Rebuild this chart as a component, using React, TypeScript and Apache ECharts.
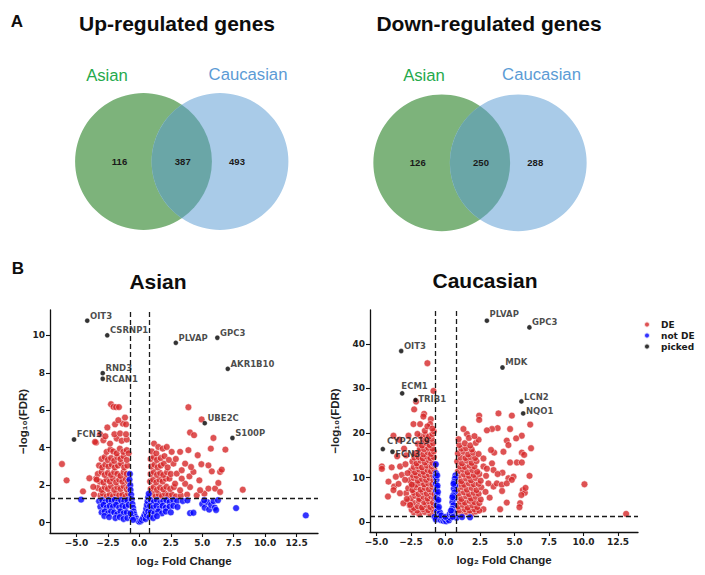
import React, { useEffect, useRef } from "react";
import * as echarts from "echarts";

// ---------- Venn counts: [Asian only, shared, Caucasian only] ----------
const upCounts = [116, 387, 493];
const downCounts = [126, 250, 288];
const vennSets = ["Asian", "Caucasian"];

// ---------- axis ticks ----------
const xTicks = [-5, -2.5, 0, 2.5, 5, 7.5, 10, 12.5];
const asianYTicks = [0, 2, 4, 6, 8, 10];
const caucYTicks = [0, 10, 20, 30, 40];

// thresholds: |log2FC| and -log10(0.05)
const FC_CUT = 0.75;
const FDR_CUT = 1.3;

// ---------- Asian volcano ----------
const asianDE: number[][] = [
  [-3.1, 1.45], [-2.9, 1.55], [-2.6, 1.4], [-2.35, 1.5], [-2.1, 1.42], [-1.85, 1.55], [-1.6, 1.45], [-1.35, 1.5], [-1.1, 1.4], [-0.9, 1.55],
  [-3.3, 1.85], [-3.0, 1.75], [-2.75, 1.9], [-2.5, 1.8], [-2.25, 1.95], [-2.0, 1.75], [-1.75, 1.9], [-1.5, 1.8], [-1.25, 1.95], [-1.0, 1.78], [-0.85, 1.9],
  [-3.45, 2.35], [-3.15, 2.2], [-2.85, 2.15], [-2.6, 2.3], [-2.35, 2.2], [-2.1, 2.35], [-1.85, 2.15], [-1.6, 2.3], [-1.35, 2.2], [-1.1, 2.35], [-0.9, 2.2],
  [-3.3, 2.6], [-3.0, 2.7], [-2.75, 2.55], [-2.5, 2.65], [-2.25, 2.55], [-2.0, 2.7], [-1.75, 2.6], [-1.5, 2.5], [-1.25, 2.7], [-1.0, 2.6],
  [-3.2, 3.05], [-2.95, 2.95], [-2.7, 3.1], [-2.45, 3.0], [-2.2, 3.1], [-1.95, 2.95], [-1.7, 3.05], [-1.45, 3.15], [-1.2, 2.95], [-0.95, 3.05],
  [-3.0, 3.4], [-2.75, 3.5], [-2.5, 3.35], [-2.25, 3.45], [-2.0, 3.3], [-1.75, 3.5], [-1.5, 3.4], [-1.25, 3.55], [-1.0, 3.35],
  [-2.6, 3.78], [-2.3, 3.9], [-2.07, 3.8], [-1.8, 3.7], [-1.55, 3.95], [-1.27, 3.78], [-1.0, 3.87], [-0.85, 3.7],
  [-3.44, 4.27], [-2.86, 4.4], [-2.33, 4.22], [-1.8, 4.49], [-1.4, 4.37], [-1.0, 4.44], [-3.12, 4.72], [-2.7, 4.61], [-1.98, 4.72], [-1.53, 4.76], [-1.06, 4.72],
  [-2.54, 5.08], [-1.93, 5.25], [-1.32, 5.29], [-1.06, 5.25], [-1.67, 5.47], [-1.14, 5.61],
  [-2.25, 6.32], [-2.05, 6.18], [-1.85, 6.17], [-1.62, 6.17],
  [-6.15, 3.13], [-5.78, 2.26], [-4.48, 1.67], [-3.97, 2.37], [-3.66, 1.91], [-3.39, 2.3], [-3.52, 4.31], [-3.6, 1.5],
  [0.85, 1.45], [1.05, 1.55], [1.3, 1.4], [1.55, 1.5], [1.8, 1.42], [2.05, 1.55], [2.3, 1.45], [2.6, 1.5], [2.9, 1.4], [3.3, 1.45], [3.8, 1.5], [4.56, 1.46], [5.17, 1.55],
  [0.9, 1.8], [1.15, 1.9], [1.4, 1.75], [1.65, 1.88], [1.9, 1.78], [2.15, 1.92], [2.45, 1.8], [2.75, 1.9], [3.24, 1.73], [4.03, 1.9], [4.83, 1.73], [5.49, 1.82], [6.02, 1.82], [6.42, 1.64], [8.22, 1.76],
  [0.85, 2.2], [1.1, 2.3], [1.35, 2.15], [1.6, 2.3], [1.85, 2.2], [2.1, 2.35], [2.39, 2.35], [2.84, 2.08], [3.64, 2.08], [3.37, 2.35], [4.77, 2.26], [6.28, 2.12], [3.98, 2.47],
  [0.9, 2.6], [1.15, 2.7], [1.4, 2.55], [1.65, 2.65], [1.9, 2.55], [2.2, 2.7], [2.5, 2.6], [2.97, 2.62], [3.37, 2.8], [4.3, 2.71], [5.76, 2.74], [6.42, 2.71], [6.55, 2.83], [4.11, 2.97],
  [0.95, 3.0], [1.2, 3.1], [1.45, 2.95], [1.7, 3.05], [1.95, 3.15], [2.25, 2.95], [2.71, 3.15], [3.64, 3.15], [4.93, 3.12], [5.49, 3.06],
  [0.9, 3.4], [1.15, 3.5], [1.4, 3.35], [1.7, 3.45], [2.0, 3.55], [2.35, 3.35], [2.9, 3.4], [4.64, 3.6],
  [1.0, 3.8], [1.35, 3.7], [1.17, 4.22], [1.51, 4.04], [1.86, 3.95], [2.18, 4.04], [2.57, 3.78], [3.24, 3.78], [3.9, 3.87], [5.68, 3.95], [6.84, 3.9],
  [4.03, 4.81], [4.35, 4.67], [5.89, 4.52], [4.95, 5.51], [3.9, 6.16],
];
const asianNotDE: number[][] = [
  [-3.2, 1.15], [-2.95, 1.2], [-2.7, 1.1], [-2.45, 1.2], [-2.2, 1.15], [-1.95, 1.22], [-1.7, 1.1], [-1.45, 1.2], [-1.2, 1.15], [-0.95, 1.2],
  [-3.1, 0.85], [-2.85, 0.95], [-2.6, 0.8], [-2.35, 0.9], [-2.1, 0.85], [-1.85, 0.95], [-1.6, 0.8], [-1.35, 0.9], [-1.1, 0.85], [-0.85, 0.95],
  [-3.0, 0.55], [-2.75, 0.6], [-2.5, 0.5], [-2.25, 0.6], [-2.0, 0.55], [-1.75, 0.45], [-1.5, 0.6], [-1.25, 0.5], [-1.0, 0.55],
  [-2.78, 0.36], [-2.4, 0.3], [-1.9, 0.25], [-1.55, 0.3], [-1.25, 0.2], [-0.95, 0.25],
  [-4.63, 1.23],
  [-0.75, 2.6], [-0.78, 2.3], [-0.72, 2.0], [-0.7, 1.75], [-0.65, 1.5], [-0.6, 1.25], [-0.55, 1.0], [-0.5, 0.8], [-0.45, 0.6], [-0.4, 0.45],
  [-0.3, 0.3], [-0.2, 0.2], [-0.1, 0.1], [0, 0.05], [0.1, 0.08], [0.2, 0.15], [0.3, 0.25], [0.4, 0.4], [0.5, 0.55], [0.55, 0.75],
  [0.6, 0.95], [0.65, 1.15], [0.7, 1.35], [0.75, 1.55], [-0.6, 0.3], [-0.5, 0.15], [0.5, 0.2], [0.6, 0.4], [-0.7, 0.5], [0.7, 0.6],
  [0.9, 1.2], [1.15, 1.1], [1.4, 1.2], [1.65, 1.05], [1.9, 1.15], [2.15, 1.2], [2.4, 1.1], [2.7, 1.2], [3.0, 1.15], [3.45, 1.16], [3.82, 1.19],
  [0.85, 0.9], [1.1, 0.8], [1.35, 0.9], [1.6, 0.75], [1.85, 0.9], [2.1, 0.8], [2.4, 0.85], [2.7, 0.9], [3.03, 0.84],
  [0.9, 0.55], [1.2, 0.5], [1.5, 0.6], [1.8, 0.5], [2.1, 0.6], [2.5, 0.55],
  [0.8, 0.3], [1.1, 0.25], [1.4, 0.35],
  [4.03, 0.51], [4.3, 0.53], [5.0, 1.0], [5.2, 0.8], [5.4, 1.1], [5.55, 0.7], [5.7, 0.95], [5.9, 1.15], [6.0, 0.8], [6.25, 1.2], [6.1, 0.68], [5.15, 1.2],
  [7.69, 0.78], [13.23, 0.39],
];
const asianPickedNames = ["OIT3", "CSRNP1", "PLVAP", "GPC3", "AKR1B10", "RND3", "RCAN1", "UBE2C", "S100P", "FCN3"];
const asianPickedFC = [-4.14, -2.55, 2.9, 6.2, 7.03, -2.91, -2.91, 5.2, 7.4, -5.19];
const asianPickedFDR = [10.78, 10.0, 9.6, 9.87, 8.21, 7.98, 7.68, 5.31, 4.52, 4.44];

// ---------- Caucasian volcano ----------
const caucDE: number[][] = [
  [-2.3, 2.2], [-1.9, 1.8], [-1.5, 2.3], [-1.1, 1.9], [-0.85, 2.4],
  [-2.45, 2.8], [-2.05, 2.6], [-1.65, 2.9], [-1.25, 2.7], [-0.95, 3.0],
  [-2.6, 3.8], [-2.3, 3.2], [-2.0, 3.6], [-1.7, 3.3], [-1.4, 3.9], [-1.1, 3.4], [-0.85, 3.7],
  [-2.75, 4.6], [-2.35, 4.4], [-1.95, 4.8], [-1.55, 4.5], [-1.2, 4.7], [-0.9, 4.4],
  [-2.5, 5.4], [-2.2, 5.9], [-1.9, 5.2], [-1.6, 5.7], [-1.3, 5.3], [-1.05, 5.8], [-0.82, 5.4],
  [-2.85, 6.5], [-2.3, 6.6], [-1.95, 6.3], [-1.65, 6.8], [-1.35, 6.4], [-1.0, 6.7], [-0.8, 6.3],
  [-2.7, 7.6], [-2.4, 7.2], [-2.1, 7.8], [-1.8, 7.3], [-1.5, 7.7], [-1.2, 7.4], [-0.95, 7.9],
  [-2.45, 8.6], [-2.15, 8.4], [-1.85, 8.8], [-1.55, 8.5], [-1.25, 8.7], [-0.95, 8.5],
  [-2.6, 9.4], [-2.3, 9.9], [-2.0, 9.3], [-1.7, 9.7], [-1.4, 9.5], [-1.15, 9.9], [-0.88, 9.4],
  [-2.4, 10.6], [-2.1, 10.4], [-1.8, 10.8], [-1.5, 10.5], [-1.2, 10.7], [-0.9, 10.5],
  [-2.5, 11.6], [-2.2, 11.2], [-1.9, 11.8], [-1.6, 11.3], [-1.3, 11.7], [-1.05, 11.4], [-0.82, 11.9],
  [-2.3, 12.4], [-2.0, 12.6], [-1.7, 12.3], [-1.35, 12.7], [-1.0, 12.5], [-0.8, 12.9],
  [-2.4, 13.6], [-2.1, 13.2], [-1.8, 13.8], [-1.5, 13.4], [-1.2, 13.9], [-0.95, 13.3],
  [-2.25, 14.5], [-1.95, 14.6], [-1.65, 14.3], [-1.35, 14.7], [-1.1, 14.4], [-0.85, 14.6],
  [-2.2, 15.4], [-1.9, 15.8], [-1.6, 15.2], [-1.3, 15.7], [-1.05, 15.3], [-0.85, 15.9],
  [-1.85, 16.5], [-1.55, 16.4], [-1.25, 16.7], [-0.95, 16.5],
  [-2.0, 17.6], [-1.7, 17.2], [-1.4, 17.8], [-1.15, 17.3], [-0.9, 17.7],
  [-1.6, 18.5], [-1.3, 18.4], [-1.0, 18.7],
  [-1.8, 19.3], [-1.45, 19.6], [-1.2, 19.2], [-0.95, 19.8], [-0.85, 20.4], [-1.5, 20.5],
  [-1.31, 35.66], [-0.87, 29.45], [-2.13, 27.06], [-2.27, 25.3], [-1.55, 24.3], [-1.6, 23.7], [-1.06, 23.1], [-1.11, 22.0],
  [-2.32, 22.0], [-1.84, 22.0], [-1.31, 21.5], [-0.95, 21.0], [-3.77, 19.4], [-3.34, 18.5], [-2.68, 19.4], [-2.03, 19.8],
  [-4.61, 12.5], [-4.61, 11.96], [-4.13, 9.1], [-3.72, 8.0], [-3.77, 7.2], [-4.17, 5.75], [-3.29, 12.5], [-3.17, 10.6],
  [-2.93, 9.5], [-2.44, 8.4], [-3.05, 4.25], [-2.56, 3.87], [-3.5, 14.8], [-3.0, 16.5], [-3.3, 6.5], [-2.9, 13.0],
  [-3.6, 10.2], [-2.8, 5.2], [-3.9, 12.3], [-3.4, 8.6], [-2.85, 15.0], [-2.75, 11.0],
  [0.85, 2.0], [1.2, 1.7], [1.55, 2.3], [1.9, 1.9], [2.2, 2.4], [2.75, 2.9],
  [1.0, 2.7], [1.4, 2.9], [1.75, 2.6], [2.1, 2.9], [2.45, 2.6],
  [0.9, 3.5], [1.25, 3.9], [1.6, 3.3], [1.95, 3.8], [2.3, 3.4],
  [1.05, 4.6], [1.4, 4.4], [1.75, 4.8], [2.1, 4.5], [2.45, 4.3],
  [0.82, 5.6], [1.15, 5.2], [1.5, 5.8], [1.85, 5.3], [2.2, 5.7], [2.55, 5.1],
  [1.0, 6.5], [1.35, 6.7], [1.7, 6.3], [2.05, 6.6], [2.4, 6.4],
  [0.88, 7.4], [1.2, 7.9], [1.55, 7.3], [1.9, 7.7], [2.25, 7.2], [2.6, 7.8],
  [1.05, 8.6], [1.35, 8.4], [1.7, 8.7], [2.05, 8.5], [2.4, 8.6],
  [0.85, 9.6], [1.15, 9.2], [1.5, 9.8], [1.85, 9.4], [2.2, 9.9], [2.55, 9.3],
  [1.0, 10.5], [1.35, 10.7], [1.7, 10.4], [2.05, 10.6], [2.45, 10.8],
  [0.9, 11.4], [1.25, 11.8], [1.6, 11.2], [1.95, 11.7], [2.3, 11.3],
  [1.05, 12.5], [1.4, 12.4], [1.75, 12.7], [2.1, 12.5],
  [0.85, 13.6], [1.2, 13.2], [1.55, 13.8], [1.9, 13.3], [2.25, 13.7],
  [1.1, 14.5], [1.45, 14.4], [1.8, 14.6], [2.15, 14.4],
  [0.9, 15.4], [1.3, 15.8], [1.65, 15.2], [2.0, 15.6], [2.4, 15.3],
  [1.15, 16.5], [1.5, 16.6], [1.9, 16.3],
  [1.0, 17.3], [1.4, 17.7], [1.8, 17.2], [2.2, 17.8],
  [0.95, 18.6], [1.55, 19.8], [2.4, 18.5],
  [1.3, 20.9], [1.7, 18.9], [2.1, 19.3],
  [2.44, 23.9], [2.44, 22.95], [3.84, 24.4], [4.81, 23.9], [3.78, 21.1], [3.37, 20.9], [3.0, 20.6], [4.68, 20.9],
  [6.14, 21.9], [5.53, 19.4], [5.12, 18.8], [4.44, 18.3], [6.2, 16.6], [5.53, 15.6], [5.7, 15.1], [4.56, 17.3],
  [3.53, 15.6], [4.2, 15.8], [4.68, 13.4], [5.17, 13.4], [5.53, 13.4], [3.37, 13.2], [3.48, 11.7], [4.13, 11.1],
  [3.78, 10.8], [2.75, 14.3], [2.75, 12.5], [2.94, 10.4], [6.09, 10.4], [10.07, 8.5], [13.09, 1.86], [4.56, 9.85],
  [4.93, 10.2], [5.6, 7.2], [5.75, 6.6], [5.5, 6.1], [5.8, 7.7], [4.44, 4.4], [5.41, 4.25], [5.36, 3.36],
  [3.96, 2.9], [3.48, 8.0], [3.72, 8.7], [4.08, 8.4], [4.44, 8.7], [4.81, 9.5], [3.11, 8.7], [2.9, 6.8],
  [3.2, 5.5], [4.1, 7.0], [3.0, 12.0], [3.3, 16.2],
];
const caucNotDE: number[][] = [
  [-0.7, 13.0], [-0.68, 11.0], [-0.72, 10.3], [-0.65, 9.5], [-0.7, 8.6], [-0.62, 7.8], [-0.68, 7.0], [-0.6, 6.2],
  [-0.66, 5.4], [-0.58, 4.6], [-0.64, 3.8], [-0.55, 3.0], [-0.62, 2.4], [-0.5, 1.8], [-0.58, 1.3], [-0.45, 1.0],
  [-0.4, 2.2], [-0.48, 3.4], [-0.52, 5.0], [-0.55, 6.8], [-0.58, 8.2], [-0.6, 10.5],
  [-0.8, 1.2], [-0.7, 0.6], [-0.35, 0.5], [-0.25, 0.9], [-0.15, 0.3], [-0.05, 0.6], [0.05, 0.2], [0.15, 0.7],
  [0.25, 0.4], [0.35, 1.0], [-0.3, 1.5], [0.0, 1.2], [0.3, 1.8], [0.8, 1.0], [1.78, 1.1], [1.2, 1.15],
  [0.72, 10.5], [0.68, 9.8], [0.62, 9.0], [0.7, 8.2], [0.6, 7.5], [0.66, 6.7], [0.55, 6.0], [0.62, 5.2],
  [0.5, 4.5], [0.58, 3.8], [0.48, 3.0], [0.55, 2.4], [0.45, 1.8], [0.52, 1.2], [0.4, 2.6], [0.5, 5.6], [0.58, 8.6],
];
const caucPickedNames = ["PLVAP", "GPC3", "OIT3", "MDK", "ECM1", "TRIB1", "LCN2", "NQO1", "CYP2C19", "FCN3"];
const caucPickedFC = [3.0, 6.08, -3.21, 4.13, -3.14, -2.17, 5.5, 5.63, -4.54, -3.84];
const caucPickedFDR = [45.2, 43.7, 38.4, 34.7, 28.9, 27.4, 27.1, 24.4, 16.4, 15.8];

// label nudges (px) for gene names that sit off the default spot
const asianNudge: Record<string, number[]> = { RCAN1: [0, 0] };
const caucNudge: Record<string, number[]> = {
  PLVAP: [0, -6.5], GPC3: [0, -5.5], MDK: [0, -6], ECM1: [-3.5, -7], TRIB1: [0, -1],
  LCN2: [0, -4], NQO1: [0, -2], CYP2C19: [1.5, -8], FCN3: [0, 2.5],
};

// ---------- styling ----------
const RED = "#d62728";
const BLUE = "#0000ff";
const MONO = "DejaVu Sans";
const SANS = '"Liberation Sans", Arial, sans-serif';
const GREEN_FILL = "#7db37b";
const BLUE_FILL = "#a9cbe8";
const LENS_FILL = "#6aa6a7";

// Venn geometry: two equal circles, the shared lens drawn as its own shape
const VR = 68.4;
const VD = 76.5;
const VH = Math.sqrt(VR * VR - (VD / 2) * (VD / 2));
echarts.graphic.registerShape(
  "vennLens",
  echarts.graphic.extendPath(
    `M0,${-VH} A${VR},${VR} 0 0,1 0,${VH} A${VR},${VR} 0 0,1 0,${-VH} Z`,
    {}
  )
);

const fmtX = (v: number) => (v < 0 ? "\u2212" : "") + Math.abs(v).toFixed(1);

function venn(cx: number, cy: number, counts: number[], title: string, titleX: number, labelXs: number[]) {
  const x1 = cx - VD / 2;
  const x2 = cx + VD / 2;
  const numStyle = (text: string, x: number) => ({
    type: "text",
    x,
    y: cy,
    z: 10,
    style: { text, fill: "#1a1a1a", font: `bold 9.5px ${SANS}`, align: "center", verticalAlign: "middle" },
  });
  return [
    {
      type: "text", x: titleX, y: 23,
      style: { text: title, fill: "#0d0d0d", font: `bold 21px ${SANS}`, align: "center", verticalAlign: "middle" },
    },
    {
      type: "text", x: labelXs[0], y: 75,
      style: { text: vennSets[0], fill: "#25a94c", font: `16.7px ${SANS}`, align: "center", verticalAlign: "middle" },
    },
    {
      type: "text", x: labelXs[1], y: 74.5,
      style: { text: vennSets[1], fill: "#5b9bd5", font: `16.7px ${SANS}`, align: "center", verticalAlign: "middle" },
    },
    { type: "circle", shape: { cx: x1, cy, r: VR }, style: { fill: GREEN_FILL } },
    { type: "circle", shape: { cx: x2, cy, r: VR }, style: { fill: BLUE_FILL } },
    { type: "vennLens", x: cx, y: cy, style: { fill: LENS_FILL } },
    numStyle(String(counts[0]), x1 - 24),
    numStyle(String(counts[1]), cx + 1),
    numStyle(String(counts[2]), x2 + 17),
  ];
}

function axes(gridIndex: number, xr: number[], yr: number[], yTicks: number[], yGap: number) {
  const line = { show: true, onZero: false, lineStyle: { color: "#111", width: 1.3 } };
  const tick = { show: true, length: 4, lineStyle: { color: "#111", width: 1.1 } };
  const lab = { fontFamily: MONO, fontWeight: "bold" as const, fontSize: 9, color: "#222" };
  const nameStyle = { fontFamily: SANS, fontWeight: "bold" as const, fontSize: 11.5, color: "#222" };
  return {
    x: {
      type: "value", gridIndex, min: xr[0], max: xr[1],
      axisLine: line,
      axisTick: { ...tick, customValues: xTicks },
      axisLabel: { ...lab, customValues: xTicks, formatter: fmtX, margin: 5 },
      splitLine: { show: false },
      name: "log\u2082 Fold Change", nameLocation: "middle", nameGap: 22, nameTextStyle: nameStyle,
    },
    y: {
      type: "value", gridIndex, min: yr[0], max: yr[1],
      axisLine: line,
      axisTick: { ...tick, customValues: yTicks },
      axisLabel: { ...lab, customValues: yTicks, formatter: (v: number) => String(v), margin: 5 },
      splitLine: { show: false },
      name: "\u2212log\u2081\u2080(FDR)", nameLocation: "middle", nameGap: yGap, nameTextStyle: nameStyle,
    },
  };
}

function volcanoSeries(
  idx: number, de: number[][], notDe: number[][], names: string[], fc: number[], fdr: number[],
  nudge: Record<string, number[]>
) {
  const common = { type: "scatter", xAxisIndex: idx, yAxisIndex: idx };
  const picked = names.map((name, i) => {
    const item: any = { name, value: [fc[i], fdr[i]] };
    const off = nudge[name];
    if (off) item.label = { offset: off };
    return item;
  });
  return [
    {
      ...common, name: "DE", data: de, symbolSize: 6.8,
      itemStyle: { color: RED, borderColor: "#fff", borderWidth: 0.6 },
    },
    {
      ...common, name: "not DE", data: notDe, symbolSize: 6.8,
      itemStyle: { color: BLUE, borderColor: "#fff", borderWidth: 0.6 },
    },
    {
      ...common, name: "picked", data: picked, symbolSize: 5, z: 4,
      itemStyle: { color: "#000", borderColor: "#fff", borderWidth: 0.4 },
      label: {
        show: true, formatter: "{b}", position: "right", distance: 0, offset: [0, -5],
        fontFamily: MONO, fontWeight: "bold", fontSize: 8.5, color: "#1a1a1a",
      },
      markLine: {
        silent: true, symbol: "none", label: { show: false },
        lineStyle: { type: [5, 3], color: "#1a1a1a", width: 1.3 },
        data: [{ xAxis: -FC_CUT }, { xAxis: FC_CUT }, { yAxis: FDR_CUT }],
      },
    },
  ];
}

const asianAxes = axes(0, [-7.1, 14.2], [-0.55, 11.35], asianYTicks, 21);
const caucAxes = axes(1, [-5.47, 13.95], [-2.2, 47.6], caucYTicks, 29);

const option: any = {
  animation: false,
  backgroundColor: "#fff",
  grid: [
    { left: 50, top: 310, width: 268, height: 223 },
    { left: 370, top: 310, width: 268, height: 222 },
  ],
  xAxis: [asianAxes.x, caucAxes.x],
  yAxis: [asianAxes.y, caucAxes.y],
  legend: {
    data: ["DE", "not DE", "picked"],
    orient: "vertical", left: 638, top: 315, itemWidth: 18, itemHeight: 6, itemGap: 2,
    icon: "circle", selectedMode: false,
    textStyle: { fontFamily: MONO, fontWeight: "bold", fontSize: 9, color: "#1a1a1a" },
  },
  series: [
    ...volcanoSeries(0, asianDE, asianNotDE, asianPickedNames, asianPickedFC, asianPickedFDR, asianNudge),
    ...volcanoSeries(1, caucDE, caucNotDE, caucPickedNames, caucPickedFC, caucPickedFDR, caucNudge),
  ],
  graphic: [
    { type: "text", x: 17, y: 21, style: { text: "A", fill: "#0d0d0d", font: `bold 17px ${SANS}`, align: "center", verticalAlign: "middle" } },
    { type: "text", x: 18, y: 268, style: { text: "B", fill: "#0d0d0d", font: `bold 17px ${SANS}`, align: "center", verticalAlign: "middle" } },
    { type: "text", x: 158, y: 281, style: { text: "Asian", fill: "#0d0d0d", font: `bold 21px ${SANS}`, align: "center", verticalAlign: "middle" } },
    { type: "text", x: 485, y: 280, style: { text: "Caucasian", fill: "#0d0d0d", font: `bold 21px ${SANS}`, align: "center", verticalAlign: "middle" } },
    ...venn(181.75, 161.5, upCounts, "Up-regulated genes", 177, [107, 248]),
    ...venn(480, 162.8, downCounts, "Down-regulated genes", 489, [424, 541.5]),
  ],
};

export default function App() {
  const ref = useRef<HTMLDivElement>(null);
  useEffect(() => {
    const chart = echarts.init(ref.current!, null, { renderer: "svg" });
    chart.setOption(option);
    return () => chart.dispose();
  }, []);
  return (
    <div
      ref={ref}
      style={{ position: "fixed", left: 0, top: 0, width: 705, height: 575, background: "#fff" }}
    />
  );
}
